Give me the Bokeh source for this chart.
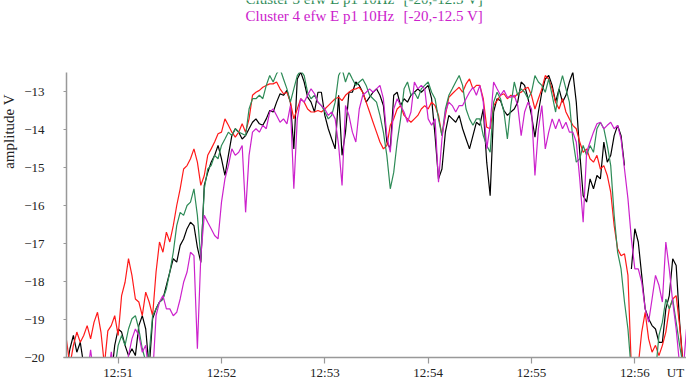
import math
import numpy as np
import pandas as pd
from bokeh.plotting import figure
from bokeh.models import Range1d, FixedTicker, DatetimeTickFormatter, Label, BoxAnnotation
from bokeh.embed import file_html
from bokeh.resources import INLINE

nan = float("nan")

# ---- data: samples every 2 s starting 12:50:30 UT ----
start_time = "2001-01-01 12:50:30"
step_seconds = 2

c1_black = [
    -20.3, -19.77, -19.42, -19.86, -19.6, -20.2, -20.5, -20.5, -20.5, -20.5, -20.5, -20.5, -20.5, -20.5,
    -19.68, -19.25, -19.33, -19.68, -19.95, -19.77, -19.95, -19.16, -18.9, -19.25,
    -20.3, -18.98, -18.72, -18.54, -18.46, -18.1, -17.75, -17.4, -17.49, -17.05,
    -16.88, -16.61, -16.44, -16.53, -17.1, -17.5, -15.47, -15.13, -14.86, -14.68,
    -14.42, -14.77, -15.21, -14.68, -14.16, -13.98, -14.07, -14.25, -14.16, -13.98,
    -13.81, -13.72, -13.85, -13.89, -13.72, -13.5,
    -13.54, -13.28, -13.06, -13.1, -12.97, -13.28, -14.51, -12.67, -12.49, -12.75,
    -13.15, -13.28, -13.54, -13.02, -13.02, -13.63, -13.98, -14.25, -14.51, -13.1,
    -14.68, -14.07, -13.02, -13.02, -12.75, -12.84, -13.02, -13.28, -13.15, -13.02,
    -12.93, -13.1, -13.37, -14.33, -14.51, -13.1, -13.02, -13.37, -13.19, -13.28,
    -13.1, -13.02, -12.93, -13.02, -12.93, -12.84, -13.19, -14.16, -15.3, -15.04,
    -14.07, -13.63, -13.72, -13.81, -13.63, -13.98, -14.25, -14.51, -14.16, -13.81,
    -13.89, -13.46, -14.86, -15.74, -13.54, -13.19, -13.24, -13.5, -13.63, -13.54,
    -13.46, -13.28, -12.75, -12.84, -13.19, -13.63, -14.2, -13.54, -13.02, -12.67,
    -12.58, -12.84, -13.28, -12.93, -13.28, -13.1, -12.75, -12.49, -13.28, -14.6,
    -15.74, -15.91, -15.3, -15.56, -15.21, -15.3, -14.33, -14.86, -14.68, -14.16,
    -13.89, -14.16, -14.95, nan, -17.67, -16.61, -16.96, -17.84, -18.72, -18.98,
    -19.16, -19.25, -19.6, -19.6, -18.72, -18.37, -17.4, -17.58, -19.07, -20.2,
    -20.3,
]

c2_red = [
    -19.55, -20.2, -19.68, -19.33, -19.6, -19.42, -19.16, -19.51, -19.07, -18.81,
    -19.33, -20.2, -19.3, -19.16, -18.9, -19.42, -18.37, -18.02, -17.4, -17.84,
    -18.46, -18.54, -18.9, -18.28, -18.54, -18.9, -17.75, -16.96, -17.23, -16.7,
    -16.96, -16.53, -16.0, -15.56, -15.04, -14.95, -14.77, -14.51, -14.86, -15.47,
    -15.21, -14.68, -14.51, -14.33, -14.11, -14.07, -13.72, -13.89, -14.07, -14.2,
    -14.07, -13.85, -14.07, -13.72, -13.1, -13.02, -12.97, -12.89, -12.84, -12.8,
    -12.8, -12.75, -12.93, -13.06, -13.02, -13.28, -13.72, -13.46, -13.19, -13.28,
    -13.46, -13.54, -13.54, -13.5, -13.54, -13.46, -13.37, -13.28, -13.19, -13.15,
    -13.24, -13.1, -13.02, -12.95, -12.93, -12.89, -13.02, -13.28, -13.54, -13.81,
    -14.07, -14.33, -14.51, -14.42, -13.89, -13.72, -13.46, -13.37, -13.63, -13.72,
    -13.81, -13.72, -13.63, -13.46, -13.37, -13.46, -13.28, -13.37, -13.63, -14.16,
    -13.63, -13.15, -13.06, -12.97, -12.89, -13.02, -12.8, -12.67, -12.93, -12.84,
    -12.84, -13.19, -13.94, -13.98, -13.37, -13.24, -13.1, -13.06, -13.19, -13.1,
    -13.15, -13.06, -13.02, -12.93, -12.89, -13.1, -13.46, -13.19, -12.93, -12.58,
    -12.67, -12.93, -13.28, -13.46, -13.19, -13.54, -13.72, -13.89, -13.98, -14.33,
    -14.6, -14.51, -14.77, -14.86, -14.68, -15.04, -14.95, -15.21, -15.65, -16.53,
    -17.14, -17.32, -17.27, -17.84, -20.3, -20.3, -20.2, -19.33, -18.81, -19.51,
    -19.86, -19.68, -19.95, -19.68, -19.33, -18.72, -18.46, -18.37, -19.16, -20.2,
    -20.2,
]

c3_green = [
    -20.5, -20.5, -20.5, -20.5, -20.5, -20.5, -20.5, -20.5, -20.5, -20.5, -20.5, -20.5, -20.5, -20.5,
    -20.3, -19.68, -19.42, -19.68, -19.25, -18.98, -18.9, -19.25, -19.77, -20.1,
    -19.9, -18.9, -18.72, -18.54, -18.46, -18.19, -17.75, -17.23, -16.53, -16.18,
    -16.26, -16.0, -15.91, -15.56, -16.26, -17.4, -15.56, -15.04, -14.95, -14.68,
    -14.77, -14.42, -14.25, -14.07, -14.16, -13.98, -14.07, -14.11, -14.16, -13.46,
    -13.19, -13.19, -13.1, -13.19, -12.84, -12.58,
    -12.75, -12.53, -12.4, -12.67, -12.93, -13.28, -12.93, -12.58, -12.45, -12.58,
    -13.02, -13.19, -13.1, -13.28, -13.37, -13.54, -13.72, -13.63, -13.28, -12.58,
    -12.4, -12.75, -12.49, -12.67, -12.84, -12.75, -12.67, -12.84, -13.1, -13.19,
    -13.28, -13.63, -14.07, -14.68, -15.56, -15.13, -14.33, -13.72, -12.93, -12.75,
    -13.1, -13.02, -13.19, -12.93, -12.84, -12.75, -13.02, -13.19, -13.72, -14.16,
    -13.46, -13.1, -12.93, -12.75, -12.58, -12.84, -13.46, -13.72, -13.89, -13.72,
    -13.72, -14.16, -14.42, -14.6, -13.28, -13.02, -13.19, -13.54, -14.25, -13.37,
    -12.75, -13.1, -12.93, -13.02, -13.19, -13.02, -12.58, -12.75, -12.84, -13.02,
    -12.67, -13.1, -13.54, -12.93, -12.58, -12.93, -13.28, -14.25, -14.86, -14.77,
    -14.42, -14.68, -14.42, -14.6, -13.98, -13.81, -13.98, -14.42, -14.95, -16.26,
    -17.23, -17.67, -18.54, -19.25, -20.4, -20.4, -20.4, -20.4, -20.4, -20.4,
    -20.4, -20.4, -19.42, -19.07, -18.46, -18.72, -18.46, -19.07, -19.68, -20.2,
    -20.3,
]

c4_magenta = [
    -20.5, -20.5, -20.5, -20.5, -20.5, -20.5, -20.5, -19.8, -20.5, -20.5, -20.5, -20.5, -20.5, -19.85,
    -20.5, -20.5, -20.5, -20.5, -19.95, -19.51, -19.25, -19.42, -19.86, -19.68,
    -20.5, -20.5, -18.9, -18.54, -18.37, -18.72, -18.72, -18.9, -18.81, -18.46,
    -18.02, -17.75, -17.23, -17.32, -19.77, -17.32, -16.26, -16.44, -16.61, -16.79,
    -16.88, -15.91, -15.3, -14.95, -14.51, -14.68, -14.6, -14.42, -16.18, -14.68,
    -14.07, -13.98, -14.07, -13.89, -13.98, -13.54,
    -13.46, -13.63, -13.81, -13.72, -13.85, -13.37, -15.56, -13.72, -13.19, -13.28,
    -13.1, -12.93, -13.06, -13.28, -13.37, -13.46, -13.63, -13.54, -13.72, -14.42,
    -15.47, -13.37, -13.63, -14.07, -14.33, -13.46, -13.1, -13.02, -12.93, -13.02,
    -12.93, -12.84, -13.19, -14.16, -14.6, -13.46, -13.19, -13.37, -13.54, -13.81,
    -13.54, -12.75, -12.93, -12.84, -12.93, -13.72, -13.89, -13.72, -15.39, -14.25,
    -13.54, -13.28, -13.37, -13.54, -13.37, -13.37, -13.19, -13.02, -12.89, -13.1,
    -12.84, -13.28, -14.51, -13.89, -12.75, -12.93, -13.1, -12.97, -13.15, -13.15,
    -13.1, -13.37, -14.16, -13.54, -13.28, -13.46, -15.21, -13.98, -13.37, -14.51,
    -14.07, -13.72, -13.98, -13.72, -13.98, -13.81, -14.07, -14.07, -14.33, -15.3,
    -16.44, -14.6, -14.33, -14.07, -13.85, -13.81, -13.98, -13.89, -13.81, -13.98,
    -13.89, -14.25, -15.04, -15.82, -16.88, -17.67, -17.67, -18.02, -18.72, -19.07,
    -18.46, -17.84, -18.1, -18.54, -16.96, -17.67, -18.54, -19.25, -20.2, -20.4,
    -19.25,
]

x_tick_times = ["12:51", "12:52", "12:53", "12:54", "12:55", "12:56"]
y_ticks = [-20, -19, -18, -17, -16, -15, -14, -13]
y_min, y_max = -20.0, -12.5
span_minutes = 6
title_lines = [
    ("Cluster 3 efw E p1 10Hz", "[-20,-12.5 V]", "#2e8b57"),
    ("Cluster 4 efw E p1 10Hz", "[-20,-12.5 V]", "#cc22cc"),
]

SERIF = "Liberation Serif"

# ---- layout (canvas pixels) ----
W, H = 686, 379
PL, PR, PT, PB = 66, 686, 72, 357   # plotting box inside the canvas

t0 = pd.Timestamp(start_time)
n = len(c1_black)
times = t0 + pd.to_timedelta(np.arange(n) * step_seconds, unit="s")
epoch = pd.Timestamp("1970-01-01")


def ms(ts):
    return (ts - epoch) / pd.Timedelta(milliseconds=1)


span_s = span_minutes * 60.0
sec_per_px = span_s / (PR - PL)
v_per_px = (y_max - y_min) / (PB - PT)


def cx(px):          # canvas x pixel -> data x (ms)
    return ms(t0) + (px - PL) * sec_per_px * 1000.0


def cy(py):          # canvas y pixel -> data y
    return y_min + (PB - py) * v_per_px


x_left, x_right = ms(t0), ms(t0 + pd.Timedelta(seconds=span_s))

p = figure(width=W, height=H, x_axis_type="datetime", output_backend="svg",
           toolbar_location=None, min_border=0,
           x_range=Range1d(cx(0), cx(W)), y_range=Range1d(cy(H), cy(0)))
p.outline_line_color = None
p.grid.visible = False
p.background_fill_color = "white"
p.border_fill_color = "white"

for vals, col in [(c1_black, "#000000"), (c2_red, "#ff1a1a"),
                  (c3_green, "#2e8b57"), (c4_magenta, "#cc22cc")]:
    p.line(times, vals, line_color=col, line_width=1.2)

# white masks so the traces are cut at the plotting box
big = 1e3
for kw in (dict(top=y_min, bottom=y_min - big, left=cx(-50), right=cx(W + 50)),
           dict(bottom=y_max, top=y_max + big, left=cx(-50), right=cx(W + 50)),
           dict(left=cx(-50), right=x_left, bottom=y_min - big, top=y_max + big)):
    p.add_layout(BoxAnnotation(fill_color="white", fill_alpha=1.0, line_color=None, **kw))

day = t0.strftime("%Y-%m-%d")
p.xaxis.ticker = FixedTicker(ticks=[ms(pd.Timestamp(day + " " + s)) for s in x_tick_times])
fmt = "%H:%M"
p.xaxis.formatter = DatetimeTickFormatter(seconds=fmt, minsec=fmt, minutes=fmt,
                                          hourmin=fmt, hours=fmt)
p.yaxis.ticker = FixedTicker(ticks=y_ticks)

p.xaxis.fixed_location = y_min
p.xaxis.bounds = (cx(PL - 3), x_right)
p.yaxis.fixed_location = x_left
p.yaxis.bounds = (y_min, y_max)

for ax in (p.xaxis[0], p.yaxis[0]):
    ax.level = "overlay"
    ax.axis_line_color = "#999999"
    ax.axis_line_width = 1.5
    ax.major_tick_line_color = "#999999"
    ax.major_tick_line_width = 1.2
    ax.minor_tick_line_color = None
    ax.major_tick_in = 0
    ax.major_label_text_font = SERIF
    ax.major_label_text_font_size = "13px"
    ax.major_label_text_color = "#222222"

p.xaxis.major_tick_out = 6
p.xaxis.major_label_standoff = 1
p.yaxis.major_tick_out = 3
p.yaxis.major_label_standoff = 19

# title lines (the upper one is partly above the canvas)
baselines_px = [-2.0, 15.0]
for (left, right, col), yb in zip(title_lines, baselines_px):
    p.add_layout(Label(x=cx(245), y=cy(yb), text=left, text_color=col, level="overlay",
                       text_font=SERIF, text_font_size="15px",
                       text_align="left", text_baseline="alphabetic"))
    p.add_layout(Label(x=cx(403), y=cy(yb), text=right, text_color=col, level="overlay",
                       text_font=SERIF, text_font_size="15px",
                       text_align="left", text_baseline="alphabetic"))

p.add_layout(Label(x=cx(8), y=cy(131), text="amplitude V", angle=math.pi / 2,
                   level="overlay", text_font=SERIF, text_font_size="15px",
                   text_color="#222222", text_align="center", text_baseline="middle"))
p.add_layout(Label(x=cx(675), y=cy(372), text="UT", level="overlay",
                   text_font=SERIF, text_font_size="13px",
                   text_color="#222222", text_align="center", text_baseline="middle"))

open("out.html", "w").write(file_html(p, INLINE))
